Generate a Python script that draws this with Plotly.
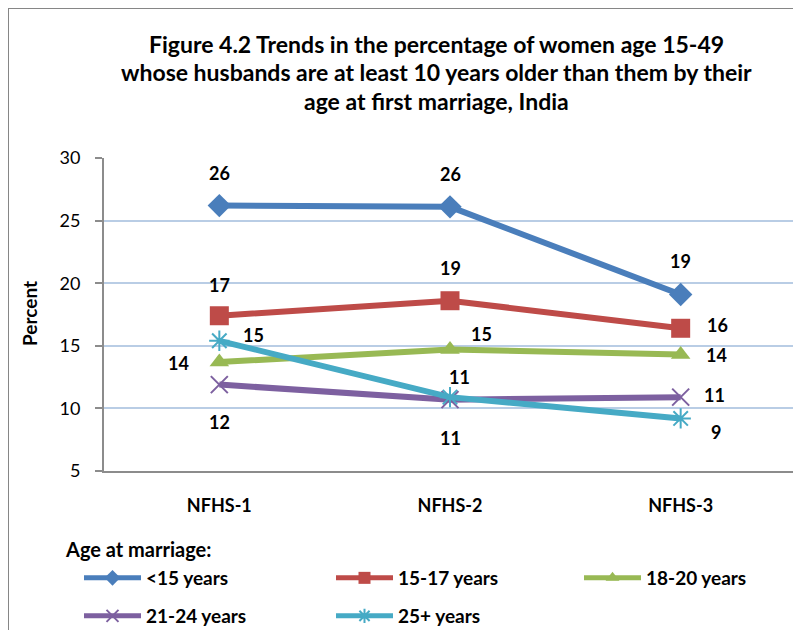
import plotly.graph_objects as go

surveys = ["NFHS-1", "NFHS-2", "NFHS-3"]
series_names = ["<15 years", "15-17 years", "18-20 years", "21-24 years", "25+ years"]
lt15 = [26.2, 26.1, 19.1]
a15_17 = [17.4, 18.6, 16.4]
a18_20 = [13.7, 14.7, 14.3]
a21_24 = [11.9, 10.7, 10.9]
a25p = [15.4, 10.9, 9.2]
y_ticks = [5, 10, 15, 20, 25, 30]

series = [lt15, a15_17, a18_20, a21_24, a25p]
colors = ["#4A7EBB", "#BE4B48", "#98B954", "#7D60A0", "#46AAC5"]
symbols = ["diamond", "square", "triangle-up", "x-thin-open", "asterisk-open"]
msizes = [18, 19, 17, 17, 17]
legend_ids = ["legend", "legend", "legend3", "legend2", "legend2"]
# label offsets (xshift, yshift) in px per series per point
label_offsets = [
    [(0, 33), (0, 33), (0, 33)],
    [(0, 31), (0, 33), (37, 3)],
    [(-41, -1), (31, 16), (36, 0)],
    [(0, -37), (0, -38), (34, 2)],
    [(34, 6), (9, 20), (35, -14)],
]

FONT = "Lato"
# plot area in page pixels (page has an 8px body margin)
PL, PR, PT, PB = 104, 796, 158, 471


def px(xp):
    return (xp - PL) / (PR - PL)


def py(yp):
    return (PB - yp) / (PB - PT)


fig = go.Figure()
for name, vals, col, sym, ms, lg in zip(series_names, series, colors, symbols, msizes, legend_ids):
    open_sym = sym.endswith("open")
    fig.add_trace(go.Scatter(
        x=surveys, y=vals, name=name, mode="lines+markers", legend=lg,
        line=dict(color=col, width=6),
        marker=dict(symbol=sym, size=ms, color=col,
                    line=dict(color=col, width=2 if open_sym else 0)),
    ))

annotations = []
for vals, offs in zip(series, label_offsets):
    for x, v, (dx, dy) in zip(surveys, vals, offs):
        annotations.append(dict(
            x=x, y=v, xref="x", yref="y", text=f"<b>{round(v)}</b>", showarrow=False,
            xshift=dx, yshift=dy, font=dict(family=FONT, size=18, color="black"),
        ))

title_lines = [
    "Figure 4.2 Trends in the percentage of women age 15-49",
    "whose husbands are at least 10 years older than them by their",
    "age at first marriage, India",
]
for i, line in enumerate(title_lines):
    annotations.append(dict(
        x=px(436), y=py(44 + 28.5 * i), xref="paper", yref="paper",
        text=f"<b>{line}</b>", showarrow=False, xanchor="center", yanchor="middle",
        font=dict(family=FONT, size=23, color="black"),
    ))

annotations.append(dict(
    x=px(29), y=py(314), xref="paper", yref="paper", text="<b>Percent</b>",
    textangle=-90, showarrow=False, xanchor="center", yanchor="middle",
    font=dict(family=FONT, size=19, color="black"),
))
annotations.append(dict(
    x=px(63), y=py(549), xref="paper", yref="paper", text="<b>Age at marriage:</b>",
    showarrow=False, xanchor="left", yanchor="middle",
    font=dict(family=FONT, size=20, color="black"),
))

legend_common = dict(
    orientation="h", xanchor="left", yanchor="top",
    font=dict(family=FONT, size=19, color="black", weight="bold"),
    entrywidth=180, entrywidthmode="pixels", itemwidth=57, itemsizing="constant",
    bgcolor="rgba(0,0,0,0)",
)

fig.update_layout(
    width=801, height=630,
    margin=dict(l=PL - 8, r=801 - PR + 8, t=PT - 8, b=630 - PB + 8, autoexpand=False),
    paper_bgcolor="white", plot_bgcolor="white",
    font=dict(family=FONT, size=16, color="black"),
    showlegend=True,
    legend=dict(x=px(79), y=py(559), **legend_common),
    legend3=dict(x=px(579), y=py(559), **legend_common),
    legend2=dict(x=px(79), y=py(597), **legend_common),
    xaxis=dict(
        type="category", range=[-0.5, 2.5], showgrid=False,
        showline=True, linecolor="#8C8C8C", linewidth=2,
        ticks="", ticklabelstandoff=17,
        tickfont=dict(family=FONT, size=18, color="black", weight="bold"),
        zeroline=False,
    ),
    yaxis=dict(
        range=[5, 30], tickvals=y_ticks, showgrid=True,
        gridcolor="#B9CDE5", gridwidth=1.5,
        showline=True, linecolor="#8C8C8C", linewidth=2,
        ticks="outside", ticklen=7, tickcolor="#8C8C8C", tickwidth=1.5,
        ticklabelstandoff=11,
        tickfont=dict(family=FONT, size=18, color="black"),
        zeroline=False,
    ),
    annotations=annotations,
    shapes=[dict(
        type="rect", xref="paper", yref="paper",
        x0=px(8), x1=1.2, y0=-0.8, y1=py(8),
        line=dict(color="#868686", width=2), layer="below",
    )],
)

fig.write_html("out.html")
